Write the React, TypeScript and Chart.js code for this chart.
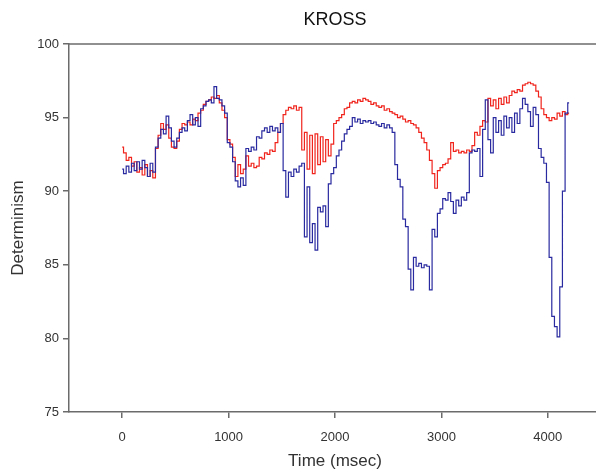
import { useEffect, useRef } from "react";
import { Chart, registerables } from "chart.js";

Chart.register(...registerables);

// ---- data ----
const SAMPLE_MS = 25;
const X_TICKS = [0, 1000, 2000, 3000, 4000];
const Y_TICKS = [75, 80, 85, 90, 95, 100];

const blueValues = [
  91.5, 91.2, 91.7, 91.3, 91.9, 91.4, 92.0, 91.5, 92.1, 91.6, 91.0, 91.9, 91.3,
  93.0, 93.6, 94.2, 93.9, 95.1, 94.3, 93.4, 93.0, 93.6, 94.0, 94.3, 94.1, 94.8,
  95.2, 94.5, 95.0, 94.4, 95.6, 95.8, 96.1, 96.2, 96.0, 97.1, 96.3, 96.2, 95.8,
  95.3, 93.3, 93.0, 92.0, 90.7, 90.3, 90.9, 90.4, 92.9, 92.7, 93.0, 92.8, 93.7,
  93.6, 94.1, 94.3, 94.0, 94.4, 94.1, 94.3, 94.0, 94.6, 91.4, 89.6, 91.3, 91.0,
  91.5, 91.3, 91.7, 91.9, 86.9, 90.3, 86.5, 87.8, 86.0, 88.9, 88.6, 89.0, 87.6,
  90.5, 91.2, 91.6, 92.4, 92.8, 93.4, 93.9, 94.2, 94.4, 95.0, 94.7, 94.9, 94.6,
  94.8, 94.7, 94.8, 94.6, 94.7, 94.5, 94.4, 94.6, 94.3, 94.5, 94.3, 94.0, 91.8,
  90.8, 90.3, 88.1, 87.6, 84.7, 83.3, 85.5, 84.9, 85.1, 84.8, 85.0, 84.9, 83.3,
  87.4, 86.9, 88.5, 88.8, 89.5, 89.4, 89.9, 89.3, 88.5, 89.4, 89.0, 89.6, 89.4,
  89.9, 92.6, 92.8, 92.7, 92.9, 91.0, 94.2, 96.2, 93.5, 92.6, 95.0, 94.0, 94.8,
  93.8, 95.1, 94.3, 95.0, 94.0, 95.3, 94.6, 95.6, 96.3, 95.9, 95.4, 94.4, 95.7,
  95.2, 92.9, 92.3, 91.9, 90.6, 85.5, 81.5, 80.8, 80.1, 83.5, 90.0, 95.3, 96.0,
];

const redValues = [
  93.0, 92.6, 92.1, 92.3, 91.7, 92.0, 91.3, 91.6, 91.1, 91.8, 91.0, 91.4, 90.9,
  92.9, 93.8, 94.6, 94.2, 94.5, 93.6, 93.0, 92.9, 93.4, 94.2, 94.6, 94.5, 94.7,
  94.5, 94.9, 94.8, 95.3, 95.5, 95.9, 96.1, 96.2, 96.4, 96.3, 96.5, 96.0, 95.5,
  95.0, 93.5, 93.2, 92.3, 91.0, 91.8, 91.2, 91.5, 92.4, 91.7, 91.9, 91.6, 91.7,
  92.3, 92.2, 92.6, 92.5, 92.8, 92.7, 93.3, 94.0, 94.6, 95.2, 95.5, 95.7, 95.6,
  95.8, 95.5, 95.7, 92.8, 94.0, 91.5, 93.8, 91.2, 93.9, 91.8, 93.7, 92.0, 93.5,
  92.4, 93.2, 94.6, 94.8, 95.0, 95.2, 95.6, 95.7, 96.0, 96.1, 96.0, 96.2, 96.1,
  96.3, 96.2, 96.1, 95.9, 96.0, 95.8, 95.7, 95.8, 95.5, 95.6, 95.4, 95.3, 95.2,
  95.0, 95.1, 94.9, 94.7, 94.8, 94.6, 94.5, 94.3, 94.0, 93.6, 93.3, 92.8, 92.1,
  91.2, 90.2, 91.4, 91.6, 91.8, 91.9, 92.2, 93.3, 92.7, 92.8, 92.6, 92.7, 92.6,
  92.8, 92.7, 93.1, 94.0, 93.8, 94.4, 94.8, 94.7, 96.3, 95.8, 96.2, 95.6, 96.3,
  95.9, 96.4, 96.0, 96.5, 96.8, 96.7, 96.9, 96.8, 97.2, 97.3, 97.4, 97.3, 97.2,
  96.8, 96.4, 95.6, 95.2, 95.0, 94.8, 95.0, 94.9, 95.3, 95.1, 95.4, 95.2, 95.3,
];

const timeMs = blueValues.map((_, i) => i * SAMPLE_MS);

const FONT = "'Liberation Sans', Arial, Helvetica, sans-serif";
const AXIS = "#6b6b6b";
const TEXT = "#333333";

export default function App() {
  const ref = useRef<HTMLCanvasElement | null>(null);

  useEffect(() => {
    if (!ref.current) return;
    const frame = {
      id: "frameTop",
      afterDraw(chart: any) {
        const { ctx, chartArea } = chart;
        ctx.save();
        ctx.strokeStyle = AXIS;
        ctx.lineWidth = 1.5;
        ctx.beginPath();
        ctx.moveTo(chartArea.left, chartArea.top);
        ctx.lineTo(chartArea.right, chartArea.top);
        ctx.stroke();
        ctx.restore();
      },
    };

    const chart = new Chart(ref.current, {
      type: "line",
      data: {
        datasets: [
          {
            label: "blue",
            data: timeMs.map((t, i) => ({ x: t, y: blueValues[i] })),
            borderColor: "rgb(42,42,160)",
            borderWidth: 1.2,
            pointRadius: 0,
            stepped: "middle",
            fill: false,
          },
          {
            label: "red",
            data: timeMs.map((t, i) => ({ x: t, y: redValues[i] })),
            borderColor: "rgb(240,36,28)",
            borderWidth: 1.2,
            pointRadius: 0,
            stepped: "middle",
            fill: false,
          },
        ],
      },
      options: {
        responsive: false,
        animation: false,
        events: [],
        layout: { padding: { left: 0, right: 9, top: 0, bottom: 0 } },
        plugins: {
          legend: { display: false },
          tooltip: { enabled: false },
          title: {
            display: true,
            text: "KROSS",
            fullSize: false,
            color: "#111",
            font: { family: FONT, size: 18, weight: "normal", lineHeight: 1.2 },
            padding: { top: 9, bottom: 13.4 },
          },
        },
        scales: {
          x: {
            type: "linear",
            min: -500,
            max: 4500,
            afterBuildTicks: (s: any) => {
              s.ticks = X_TICKS.map((v) => ({ value: v }));
            },
            afterFit: (s: any) => {
              s.height = 60;
            },
            ticks: {
              color: TEXT,
              font: { family: FONT, size: 13 },
              padding: 12,
              maxRotation: 0,
              callback: (v: any) => String(v),
            },
            grid: {
              drawOnChartArea: false,
              drawTicks: true,
              tickLength: 6,
              color: AXIS,
              lineWidth: 1.5,
            },
            border: { display: true, color: AXIS, width: 1.5 },
            title: {
              display: true,
              text: "Time (msec)",
              color: TEXT,
              font: { family: FONT, size: 17 },
              padding: { top: 0, bottom: 0 },
            },
          },
          y: {
            type: "linear",
            min: 75,
            max: 100,
            afterBuildTicks: (s: any) => {
              s.ticks = Y_TICKS.map((v) => ({ value: v }));
            },
            afterFit: (s: any) => {
              s.width = 69;
            },
            ticks: {
              color: TEXT,
              font: { family: FONT, size: 13 },
              padding: 4,
              callback: (v: any) => String(v),
            },
            grid: {
              drawOnChartArea: false,
              drawTicks: true,
              tickLength: 6,
              color: AXIS,
              lineWidth: 1.5,
            },
            border: { display: true, color: AXIS, width: 1.5 },
            title: {
              display: true,
              text: "Determinism",
              color: TEXT,
              font: { family: FONT, size: 17 },
              padding: { top: 8, bottom: 0 },
            },
          },
        },
      },
      plugins: [frame],
    } as any);

    return () => chart.destroy();
  }, []);

  return (
    <div
      style={{
        position: "fixed",
        left: 0,
        top: 0,
        width: 596,
        height: 472,
        overflow: "hidden",
        background: "#fff",
      }}
    >
      <canvas ref={ref} width={610} height={472} style={{ display: "block" }} />
    </div>
  );
}
